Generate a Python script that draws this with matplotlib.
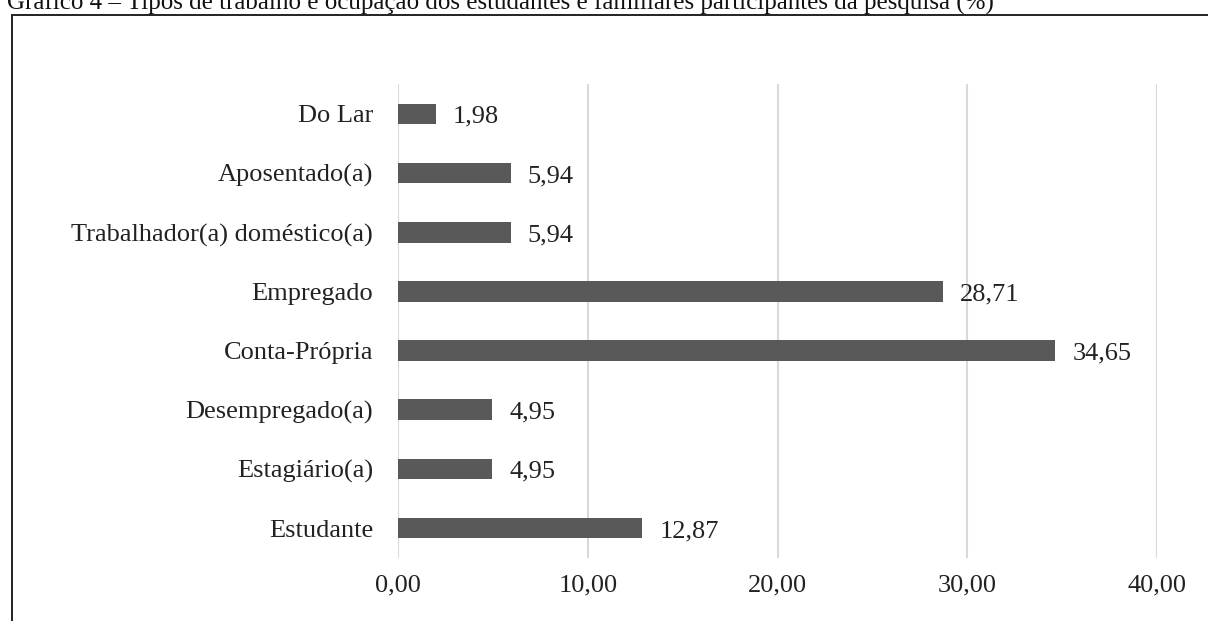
import matplotlib
matplotlib.use("Agg")
import matplotlib.pyplot as plt
from matplotlib.patches import Rectangle

# data (bottom to top as drawn)
categories = ["Estudante", "Estagiário(a)", "Desempregado(a)", "Conta-Própria",
              "Empregado", "Trabalhador(a) doméstico(a)", "Aposentado(a)", "Do Lar"]
values = [12.87, 4.95, 4.95, 34.65, 28.71, 5.94, 5.94, 1.98]
xticks = [0, 10, 20, 30, 40]
title = ("Gráfico 4 – Tipos de trabalho e ocupação dos estudantes e familiares "
         "participantes da pesquisa (%)")

plt.rcParams["font.family"] = ["Liberation Serif", "DejaVu Serif"]
FS = 19

fig = plt.figure(figsize=(12.08, 6.21), dpi=100)
ax = fig.add_axes([398 / 1208, 1 - 557.6 / 621, (1157 - 398) / 1208, (557.6 - 84.4) / 621])

pos = list(range(len(categories)))
ax.barh(pos, values, height=0.35, color="#595959", zorder=3)
for y, v in zip(pos, values):
    ax.text(v + 0.9, y - 0.05, f"{v:.2f}".replace(".", ","), va="center",
            ha="left", fontsize=FS, color="#222222")

ax.set_xlim(0, 40)
ax.set_ylim(-0.5, len(categories) - 0.5)
ax.set_xticks(xticks)
ax.set_xticklabels([f"{t:.2f}".replace(".", ",") for t in xticks], fontsize=FS)
ax.set_yticks(pos)
ax.set_yticklabels(categories, fontsize=FS)
ax.tick_params(axis="both", length=0, colors="#222222")
ax.tick_params(axis="x", pad=12)
ax.tick_params(axis="y", pad=18)
ax.grid(axis="x", color="#d9d9d9", lw=1.5, zorder=0)
for s in ax.spines.values():
    s.set_visible(False)

# outer frame (cut by the image edges on right and bottom)
fig.patches.append(Rectangle((11.8 / 1208, -0.2), 1.5, 1 - 14.5 / 621 + 0.2,
                             transform=fig.transFigure, fill=False,
                             edgecolor="#222222", lw=1.4))
fig.text(7 / 1208, 1 - 10 / 621, title, fontsize=18, ha="left", va="baseline",
         color="#111111")

fig.savefig("out.png", dpi=100)
